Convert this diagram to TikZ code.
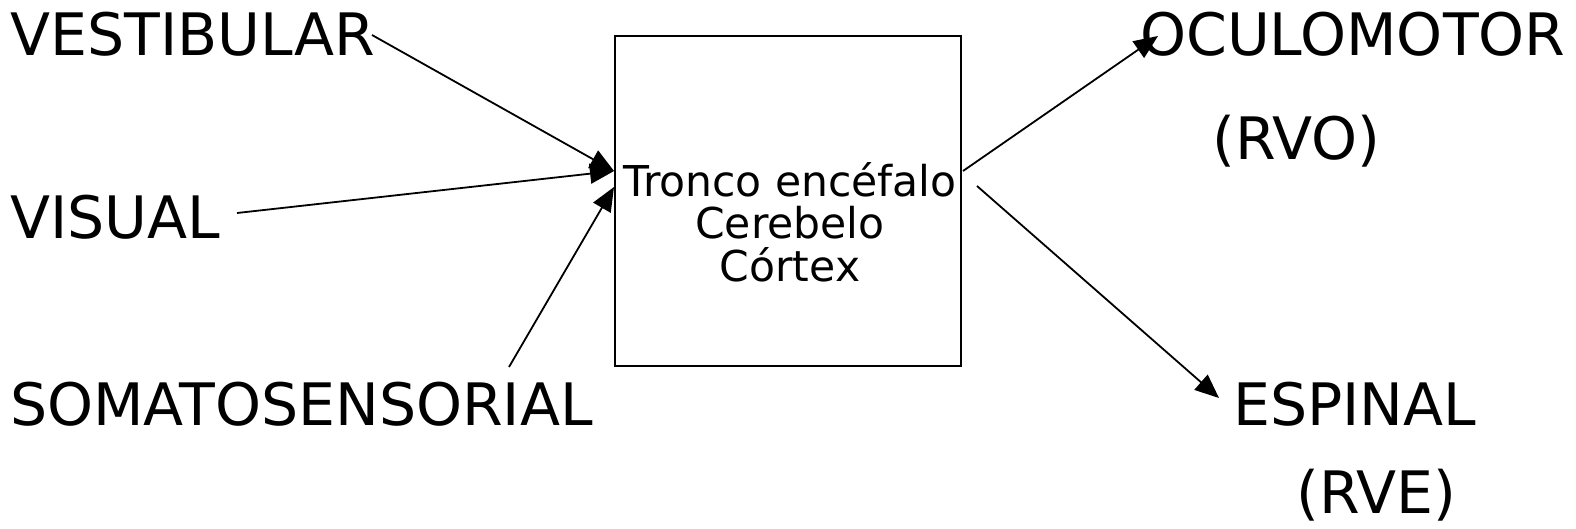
\documentclass[tikz,border=0pt]{standalone}
\usepackage{fontspec}
\setmainfont{DejaVu Sans}
\usetikzlibrary{arrows.meta}
\begin{document}
\begin{tikzpicture}[x=1pt,y=-1pt,
  lbl/.style={anchor=base west,inner sep=0pt,font=\fontsize{58.5}{68}\selectfont},
  boxtxt/.style={align=center,inner sep=0pt,font=\fontsize{42.5}{43}\selectfont},
  conn/.style={line width=1.8pt,-{Triangle[length=24pt,width=20pt]}},
  mainbox/.style={draw,line width=1.6pt,minimum width=346pt,minimum height=330pt,inner sep=0pt}]
\useasboundingbox (0,0) rectangle (1576,528);
\node[lbl] (vest) at (10,55) {VESTIBULAR};
\node[lbl] (vis) at (10,238) {VISUAL};
\node[lbl] (soma) at (10,425) {SOMATOSENSORIAL};
\node[lbl] (ocu) at (1140,55) {OCULOMOTOR};
\node[lbl] (rvo) at (1212,159) {(RVO)};
\node[lbl] (esp) at (1233,425) {ESPINAL};
\node[lbl] (rve) at (1296,513) {(RVE)};
\node[mainbox] (box) at (788,201) {};
\node[boxtxt,anchor=base] (t1) at (790,196) {Tronco encéfalo};
\node[boxtxt,anchor=base] (t2) at (790,238) {Cerebelo};
\node[boxtxt,anchor=base] (t3) at (790,281) {Córtex};
\coordinate (vestS) at (372,35);
\coordinate (visS) at (237,213);
\coordinate (somaS) at (509,367);
\coordinate (inA) at (614,171);
\coordinate (inB) at (614,187);
\coordinate (outA) at (963,171);
\coordinate (outB) at (977,186);
\coordinate (ocuE) at (1158,36);
\coordinate (espE) at (1219,398);
\draw[conn] (vestS) -- (inA);
\draw[conn] (visS) -- (inA);
\draw[conn] (somaS) -- (inB);
\draw[conn] (outA) -- (ocuE);
\draw[conn] (outB) -- (espE);
\end{tikzpicture}
\end{document}
